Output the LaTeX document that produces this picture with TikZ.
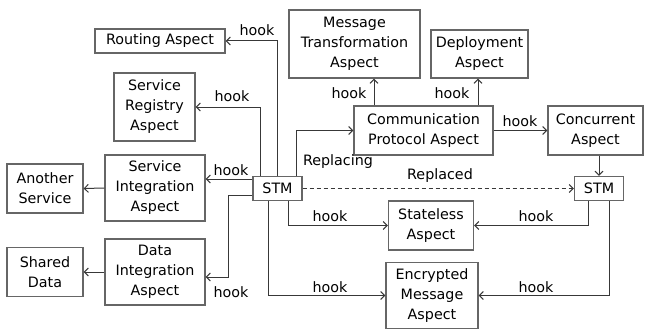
\documentclass[tikz,border=0pt]{standalone}
\usepackage{fontspec}
\setmainfont{DejaVu Sans}
\usetikzlibrary{arrows.meta}
\definecolor{boxgray}{HTML}{666666}
\definecolor{linegray}{HTML}{383838}
\begin{document}
\begin{tikzpicture}[x=1pt,y=-1pt,
  box/.style={draw=boxgray, line width=1.3pt, align=center, inner sep=0pt, font=\fontsize{14.3}{20}\selectfont, text=black},
  conn/.style={draw=linegray, line width=1pt, -{Straight Barb[length=4pt,width=8pt]}},
  lbl/.style={font=\fontsize{14.3}{20}\selectfont, inner sep=0pt, text=black}]
\useasboundingbox (0,0) rectangle (645,329);

% boxes
\node[box, minimum width=130pt, minimum height=24pt] (route) at (160,41) {Routing Aspect};
\node[box, minimum width=81pt, minimum height=68pt] (reg) at (154.5,107) {Service\\Registry\\Aspect};
\node[box, minimum width=100pt, minimum height=66pt] (si) at (155,188) {Service\\Integration\\Aspect};
\node[box, minimum width=76pt, minimum height=49pt] (another) at (45,188.5) {Another\\Service};
\node[box, minimum width=100pt, minimum height=66pt] (di) at (155,272) {Data\\Integration\\Aspect};
\node[box, minimum width=76pt, minimum height=49pt] (shared) at (45,272) {Shared\\Data};
\node[box, minimum width=49pt, minimum height=24pt] (stm1) at (277.5,188.5) {STM};
\node[box, minimum width=131pt, minimum height=68pt] (mt) at (354.5,44) {Message\\Transformation\\Aspect};
\node[box, minimum width=97pt, minimum height=48pt] (dep) at (479.5,54) {Deployment\\Aspect};
\node[box, minimum width=139pt, minimum height=49pt] (cp) at (423.5,130.5) {Communication\\Protocol Aspect};
\node[box, minimum width=95pt, minimum height=49pt] (conc) at (595.5,130.5) {Concurrent\\Aspect};
\node[box, minimum width=49pt, minimum height=24pt] (stm2) at (599,188.5) {STM};
\node[box, minimum width=85pt, minimum height=49pt] (stateless) at (431,225.5) {Stateless\\Aspect};
\node[box, minimum width=92pt, minimum height=66pt] (enc) at (432,295.5) {Encrypted\\Message\\Aspect};

% connectors from left STM
\draw[conn] (stm1.north) |- (route.east);
\draw[conn] ([xshift=-17.5pt]stm1.north) |- (reg.east);
\draw[conn] ([yshift=9.5pt]stm1.west) -- ([yshift=9.5pt]stm1.west -| si.east);
\draw[conn] ([yshift=-7pt]stm1.west) -- ++(-24,0) |- ([yshift=-5pt]di.east);
\draw[conn] (si.west) -- (another.east);
\draw[conn] (di.west) -- (shared.east);
\draw[conn] ([xshift=18.5pt]stm1.north) |- (cp.west);
\draw[conn] ([xshift=11pt]stm1.south) |- (stateless.west);
\draw[conn] ([xshift=-9.5pt]stm1.south) |- (enc.west);
\draw[conn, dashed, dash pattern=on 4pt off 3pt] (stm1.east) -- (stm2.west);

% connectors from communication protocol
\draw[conn] ([xshift=19.5pt]mt.south |- cp.north) -- ([xshift=19.5pt]mt.south);
\draw[conn] ([xshift=-1.5pt]dep.south |- cp.north) -- ([xshift=-1.5pt]dep.south);
\draw[conn] (cp.east) -- (conc.west);
\draw[conn] (stm2.north |- conc.south) -- (stm2.north);

% connectors from right STM
\draw[conn] ([xshift=-11pt]stm2.south) |- (stateless.east);
\draw[conn] ([xshift=10pt]stm2.south) |- (enc.east);

% labels
\node[lbl] (l1) at (257,30) {hook};
\node[lbl] (l2) at (232,96) {hook};
\node[lbl] (l3) at (231,170) {hook};
\node[lbl] (l4) at (231,292) {hook};
\node[lbl] (l5) at (338,162) {Replacing};
\node[lbl] (l6) at (440,176) {Replaced};
\node[lbl] (l7) at (349,93) {hook};
\node[lbl] (l8) at (452,93) {hook};
\node[lbl] (l9) at (520,121) {hook};
\node[lbl] (l10) at (330,216) {hook};
\node[lbl] (l11) at (330,287) {hook};
\node[lbl] (l12) at (536,216) {hook};
\node[lbl] (l13) at (536,287) {hook};
\end{tikzpicture}
\end{document}
